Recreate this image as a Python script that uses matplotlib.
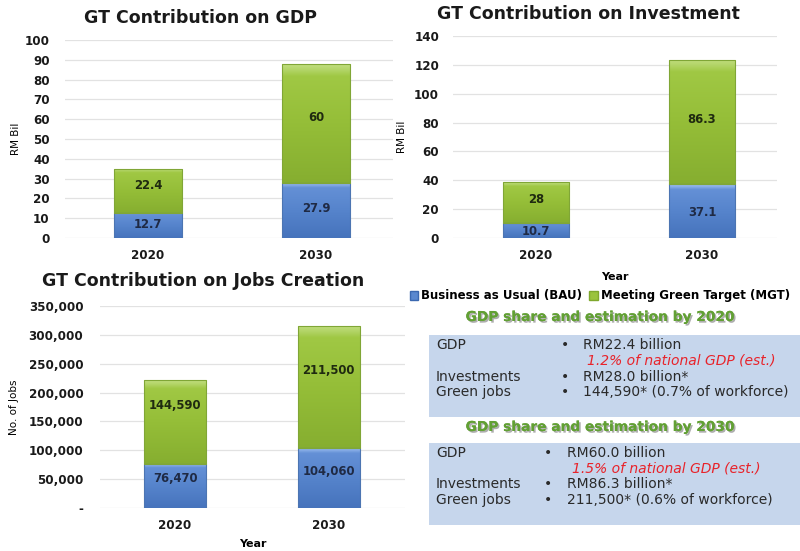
import numpy as np
import matplotlib
matplotlib.use("Agg")
import matplotlib.pyplot as plt
from matplotlib.patches import Rectangle, Patch
from matplotlib.colors import LinearSegmentedColormap
import matplotlib.patheffects as pe
from matplotlib.ticker import FuncFormatter

# ---------------- data ----------------
years = ["2020", "2030"]
gdp_bau = [12.7, 27.9]
gdp_mgt = [22.4, 60]
inv_bau = [10.7, 37.1]
inv_mgt = [28, 86.3]
jobs_bau = [76470, 104060]
jobs_mgt = [144590, 211500]
legend_labels = ["Business as Usual (BAU)", "Meeting Green Target (MGT)"]

titles = ["GT Contribution on GDP", "GT Contribution on Investment", "GT Contribution on Jobs Creation"]

box_headings = ["GDP share and estimation by 2020", "GDP share and estimation by 2030"]
box_keys = ["GDP", "Investments", "Green jobs"]
box_vals_2020 = ["RM22.4 billion", "RM28.0 billion*", "144,590* (0.7% of workforce)"]
box_note_2020 = "1.2% of national GDP (est.)"
box_vals_2030 = ["RM60.0 billion", "RM86.3 billion*", "211,500* (0.6% of workforce)"]
box_note_2030 = "1.5% of national GDP (est.)"

# ---------------- style ----------------
W, H = 800, 551
FONT = "DejaVu Sans"
plt.rcParams["font.family"] = [FONT]
BLUE = "#5A88CF"
GREEN = "#9AC33C"
blue_cmap = LinearSegmentedColormap.from_list(
    "b", [(0, "#4673BC"), (0.5, "#5684CC"), (0.9, "#6490D6"), (0.95, "#86ACE6"), (1.0, "#A6C6F0")])
green_cmap = LinearSegmentedColormap.from_list(
    "g", [(0, "#86AE30"), (0.5, "#95BE38"), (0.9, "#A0C844"), (0.95, "#B2D466"), (1.0, "#C2DE80")])

fig = plt.figure(figsize=(W / 100, H / 100), dpi=100)
fig.patch.set_facecolor("white")


def ax_px(x0, x1, y0, y1):
    """axes rectangle in pixel coords (top-left origin)"""
    return fig.add_axes([x0 / W, 1 - y1 / H, (x1 - x0) / W, (y1 - y0) / H])


def px(x, y):
    return x / W, 1 - y / H


def gradient_bar(ax, bar, cmap):
    x, y = bar.get_x(), bar.get_y()
    w, h = bar.get_width(), bar.get_height()
    grad = np.linspace(0, 1, 256).reshape(-1, 1)
    im = ax.imshow(grad, cmap=cmap, origin="lower", aspect="auto",
                   extent=[x, x + w, y, y + h], zorder=2)
    im.set_clip_path(bar)


def draw_chart(ax, bau, mgt, ymax, ystep, width, xlim, label_fmt, tick_fmt, pad, lab_off=(0, 0)):
    xpos = np.arange(len(years))
    b1 = ax.bar(xpos, bau, width=width, color=BLUE, edgecolor="#4C75B2", linewidth=0.8, zorder=3)
    b2 = ax.bar(xpos, mgt, bottom=bau, width=width, color=GREEN, edgecolor="#80A636", linewidth=0.8, zorder=3)
    for bar in b1:
        bar.set_facecolor("none")
        gradient_bar(ax, bar, blue_cmap)
    for bar in b2:
        bar.set_facecolor("none")
        gradient_bar(ax, bar, green_cmap)
    ax.set_xlim(*xlim)
    ax.set_ylim(0, ymax)
    ax.set_yticks(np.arange(0, ymax + ystep / 2, ystep))
    ax.yaxis.set_major_formatter(FuncFormatter(tick_fmt))
    ax.set_xticks(xpos)
    ax.set_xticklabels(years)
    ax.grid(axis="y", color="#E2E2E2", linewidth=0.9, zorder=0)
    ax.set_axisbelow(True)
    for s in ax.spines.values():
        s.set_visible(False)
    ax.tick_params(axis="y", length=0, labelsize=8.6, pad=pad)
    ax.tick_params(axis="x", length=0, labelsize=8.6, pad=8)
    for t in ax.get_yticklabels() + ax.get_xticklabels():
        t.set_fontweight("bold")
        t.set_color("#1A1A1A")
    for i in range(len(years)):
        ax.annotate(label_fmt(bau[i]), (xpos[i], bau[i] / 2), xytext=(0, lab_off[0]),
                    textcoords="offset points", ha="center", va="center",
                    fontsize=8.4, fontweight="bold", color="#1F2A44", zorder=5)
        ax.annotate(label_fmt(mgt[i]), (xpos[i], bau[i] + mgt[i] / 2), xytext=(0, lab_off[1]),
                    textcoords="offset points", ha="center", va="center",
                    fontsize=8.4, fontweight="bold", color="#1F2A10", zorder=5)
    ax.set_facecolor("none")


def num_fmt(v):
    return f"{v:g}"


def int_fmt(v, p=None):
    return f"{int(v):,}" if v != 0 else "-"


# GDP chart
ax1 = ax_px(65, 393, 40, 238)
draw_chart(ax1, gdp_bau, gdp_mgt, 100, 10, 0.405, (-0.494, 1.458), num_fmt,
           lambda v, p: f"{int(v)}", pad=11, lab_off=(1, 4))
ax1.set_ylabel("RM Bil", fontsize=7.5, labelpad=3)
fig.text(*px(200, 18), titles[0], ha="center", va="center", fontsize=12.5, fontweight="bold", color="#1A1A1A")

# Investment chart
ax2 = ax_px(453, 777, 36, 238)
draw_chart(ax2, inv_bau, inv_mgt, 140, 20, 0.398, (-0.5, 1.452), num_fmt,
           lambda v, p: f"{int(v)}", pad=10, lab_off=(-1, 2))
ax2.set_ylabel("RM Bil", fontsize=7.5, labelpad=5)
ax2.set_xlabel("Year", fontsize=8, fontweight="bold", labelpad=7)
fig.text(*px(588, 14), titles[1], ha="center", va="center", fontsize=12.5, fontweight="bold", color="#1A1A1A")

# Jobs chart
ax3 = ax_px(100, 405, 306, 508)
draw_chart(ax3, jobs_bau, jobs_mgt, 350000, 50000, 0.404, (-0.489, 1.498),
           lambda v: f"{int(v):,}", int_fmt, pad=12, lab_off=(5, 12))
ax3.set_ylabel("No. of Jobs", fontsize=7.5, labelpad=7)
ax3.set_xlabel("Year", fontsize=8, fontweight="bold", labelpad=5)
fig.text(*px(203, 281), titles[2], ha="center", va="center", fontsize=12.5, fontweight="bold", color="#1A1A1A")

# Legend
handles = [Patch(facecolor=BLUE, edgecolor="#3B68B0"), Patch(facecolor=GREEN, edgecolor="#7FA82C")]
leg = fig.legend(handles, legend_labels, loc="center", bbox_to_anchor=px(600, 296), ncol=2,
                 frameon=False, handlelength=0.7, handleheight=0.7,
                 handletextpad=0.3, columnspacing=0.6, prop={"weight": "bold", "size": 8.5})

# Text boxes
BOX = "#C6D6EC"
heading_fx = [pe.withSimplePatchShadow(offset=(1.2, -1.2), shadow_rgbFace="#9A9A9A", alpha=0.8), pe.Normal()]

for y_top, y_bot in [(335, 417), (443, 525)]:
    fig.patches.append(Rectangle(px(429, y_bot), (800 - 429) / W, (y_bot - y_top) / H,
                                 transform=fig.transFigure, facecolor=BOX, edgecolor="none", zorder=0))

for heading, yh in zip(box_headings, [317, 427]):
    fig.text(*px(600, yh), heading, ha="center", va="center", fontsize=9.9, fontweight="bold",
             color="#62A034", path_effects=heading_fx)

TXT = "#2A2A2A"
rows_y_2020 = [349, 381, 396]
rows_y_2030 = [457, 488, 504]
for vals, note, rows_y, note_y, xb, xv, xn in [
        (box_vals_2020, box_note_2020, rows_y_2020, 365, 565, 583, 587),
        (box_vals_2030, box_note_2030, rows_y_2030, 472, 548, 567, 572)]:
    for key, val, yy in zip(box_keys, vals, rows_y):
        fig.text(*px(436, yy), key, ha="left", va="baseline", fontsize=10, color=TXT)
        fig.text(*px(xb, yy), "\u2022", ha="center", va="baseline", fontsize=10, color=TXT)
        fig.text(*px(xv, yy), val, ha="left", va="baseline", fontsize=10, color=TXT)
    fig.text(*px(xn, note_y), note, ha="left", va="baseline", fontsize=10, style="italic", color="#E8232A")

fig.savefig("out.png", dpi=100, facecolor="white")
